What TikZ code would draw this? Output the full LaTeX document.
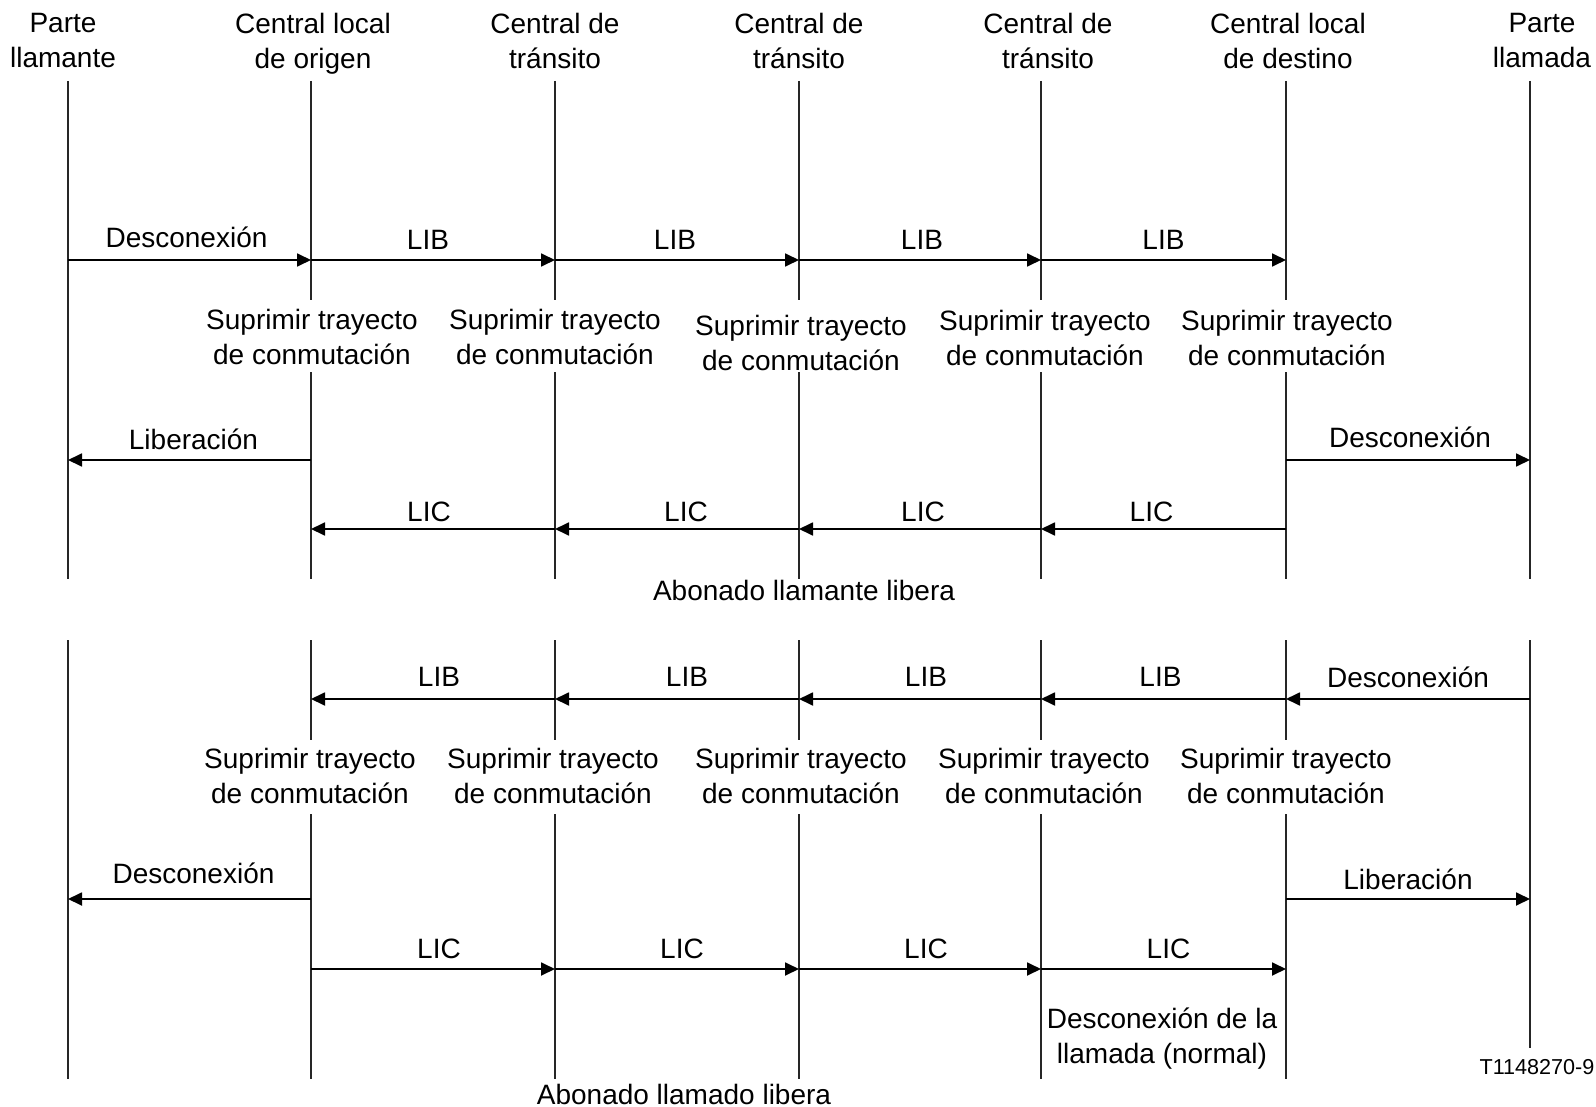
\documentclass[tikz,border=0pt]{standalone}
\usepackage{fontspec}
\setmainfont{Liberation Sans}
\usetikzlibrary{arrows.meta}
\begin{document}
\begin{tikzpicture}[x=0.5pt,y=-0.5pt,
  txt/.style={font=\fontsize{14}{17.5}\selectfont, inner sep=0pt, align=center},
  life/.style={line width=0.9pt, draw=black!85},
  msg/.style={line width=0.9pt, -{Triangle[length=7pt,width=6.5pt]}},
  lbl/.style={txt, midway, yshift=10pt}]
\useasboundingbox (0,0) rectangle (1596,1107);
% lifeline coordinates
\foreach \n/\x in {a/68,b/311,c/555,d/799,e/1041,f/1286,g/1530} {
  \foreach \r/\y in {1/260,2/460,3/529,4/699,5/899,6/969} {
    \coordinate (\n\r) at (\x,\y);
  }
  \coordinate (\n T) at (\x,81);
  \coordinate (\n U) at (\x,300);
  \coordinate (\n V) at (\x,372);
  \coordinate (\n W) at (\x,579);
  \coordinate (\n X) at (\x,640);
  \coordinate (\n Y) at (\x,740);
  \coordinate (\n Z) at (\x,814);
  \coordinate (\n E) at (\x,1079);
}
\coordinate (gE2) at (1530,1048);
% headers
\node[txt] (ha) at (63,41) {Parte\\llamante};
\node[txt] (hb) at (313,43.5) {Central local\\de origen};
\node[txt] (hc) at (555,41) {Central de\\tránsito};
\node[txt] (hd) at (799,41) {Central de\\tránsito};
\node[txt] (he) at (1048,41) {Central de\\tránsito};
\node[txt] (hf) at (1288,41) {Central local\\de destino};
\node[txt] (hg) at (1542,41) {Parte\\llamada};
% lifelines, upper part
\draw[life] (aT) -- (aW);
\draw[life] (gT) -- (gW);
\foreach \n in {b,c,d,e,f} {
  \draw[life] (\n T) -- (\n U);
  \draw[life] (\n V) -- (\n W);
}
% lifelines, lower part
\draw[life] (aX) -- (aE);
\draw[life] (gX) -- (gE2);
\foreach \n in {b,c,d,e,f} {
  \draw[life] (\n X) -- (\n Y);
  \draw[life] (\n Z) -- (\n E);
}
% switching path labels
\node[txt] (s1) at (312,337) {Suprimir trayecto\\de conmutación};
\node[txt] (s2) at (555,337) {Suprimir trayecto\\de conmutación};
\node[txt] (s3) at (801,343) {Suprimir trayecto\\de conmutación};
\node[txt] (s4) at (1045,338) {Suprimir trayecto\\de conmutación};
\node[txt] (s5) at (1287,338) {Suprimir trayecto\\de conmutación};
\node[txt] (t1) at (310,776) {Suprimir trayecto\\de conmutación};
\node[txt] (t2) at (553,776) {Suprimir trayecto\\de conmutación};
\node[txt] (t3) at (801,776) {Suprimir trayecto\\de conmutación};
\node[txt] (t4) at (1044,776) {Suprimir trayecto\\de conmutación};
\node[txt] (t5) at (1286,776) {Suprimir trayecto\\de conmutación};
% upper messages
\draw[msg] (a1) -- (b1) node[lbl, xshift=-1.5pt, yshift=1.5pt] {Desconexión};
\draw[msg] (b1) -- (c1) node[lbl, xshift=-2.5pt] {LIB};
\draw[msg] (c1) -- (d1) node[lbl, xshift=-1pt] {LIB};
\draw[msg] (d1) -- (e1) node[lbl, xshift=1pt] {LIB};
\draw[msg] (e1) -- (f1) node[lbl] {LIB};
\draw[msg] (b2) -- (a2) node[lbl, xshift=2pt, yshift=0.5pt] {Liberación};
\draw[msg] (f2) -- (g2) node[lbl, xshift=1pt, yshift=1.5pt] {Desconexión};
\draw[msg] (f3) -- (e3) node[lbl, xshift=-6pt, yshift=-1.5pt] {LIC};
\draw[msg] (e3) -- (d3) node[lbl, xshift=1.5pt, yshift=-1.5pt] {LIC};
\draw[msg] (d3) -- (c3) node[lbl, xshift=4.5pt, yshift=-1.5pt] {LIC};
\draw[msg] (c3) -- (b3) node[lbl, xshift=-2pt, yshift=-1.5pt] {LIC};
\node[txt] (cap1) at (804,590) {Abonado llamante libera};
% lower messages
\draw[msg] (g4) -- (f4) node[lbl, yshift=1pt] {Desconexión};
\draw[msg] (f4) -- (e4) node[lbl, xshift=-1.5pt, yshift=1pt] {LIB};
\draw[msg] (e4) -- (d4) node[lbl, xshift=3pt, yshift=1pt] {LIB};
\draw[msg] (d4) -- (c4) node[lbl, xshift=5pt, yshift=1pt] {LIB};
\draw[msg] (c4) -- (b4) node[lbl, xshift=3pt, yshift=1pt] {LIB};
\draw[msg] (b5) -- (a5) node[lbl, xshift=2pt, yshift=3pt] {Desconexión};
\draw[msg] (f5) -- (g5) node[lbl] {Liberación};
\draw[msg] (b6) -- (c6) node[lbl, xshift=3pt] {LIC};
\draw[msg] (c6) -- (d6) node[lbl, xshift=2.5pt] {LIC};
\draw[msg] (d6) -- (e6) node[lbl, xshift=3pt] {LIC};
\draw[msg] (e6) -- (f6) node[lbl, xshift=2.5pt] {LIC};
\node[txt] (norm) at (1162,1039) {Desconexión de la\\llamada (normal)};
\node[txt] (cap2) at (684,1094) {Abonado llamado libera};
\node[txt, font=\fontsize{10.8}{13}\selectfont] (ref) at (1537,1067) {T1148270-9};
\end{tikzpicture}
\end{document}
